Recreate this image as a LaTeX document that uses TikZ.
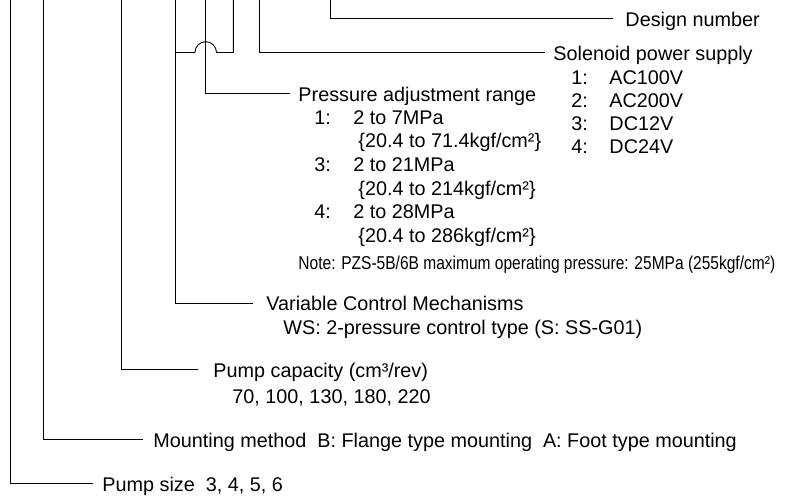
\documentclass[tikz,border=0pt]{standalone}
\usepackage{fontspec}
\setmainfont{Liberation Sans}
\newfontfamily\narrowfont[FakeStretch=0.835]{Liberation Sans}
\begin{document}
\begin{tikzpicture}[x=1bp,y=-1bp,line width=0.9bp,
  head/.style={inner sep=0pt,anchor=west,text height=16bp,text depth=0pt,font=\fontsize{19.8bp}{23bp}\selectfont},
  sub/.style={inner sep=0pt,anchor=base west,font=\fontsize{19.8bp}{23bp}\selectfont},
  notestyle/.style={inner sep=0pt,anchor=base west,font=\narrowfont\fontsize{18.6bp}{22bp}\selectfont}]
\useasboundingbox (0,0) rectangle (785,499);
% free ends at the top
\coordinate (tA) at (10,0);
\coordinate (tB) at (43.3,0);
\coordinate (tC) at (121,0);
\coordinate (tD) at (175.7,0);
\coordinate (tE) at (205.7,0);
\coordinate (tF) at (233.3,0);
\coordinate (tG) at (259.7,0);
\coordinate (tH) at (330,0);
% Design number
\node[head] (dn) at (625,18.3) {Design number};
\draw (tH) |- ([xshift=-12bp]dn.west);
% Solenoid power supply
\node[head] (sol) at (553,52.5) {Solenoid power supply};
\draw (tG) |- ([xshift=-8bp]sol.west);
\node[sub] (s1) at (571,85) {\makebox[38bp][l]{1:}AC100V};
\node[sub] (s2) at (571,108) {\makebox[38bp][l]{2:}AC200V};
\node[sub] (s3) at (571,131) {\makebox[38bp][l]{3:}DC12V};
\node[sub] (s4) at (571,154) {\makebox[38bp][l]{4:}DC24V};
% Pressure adjustment range
\node[head] (par) at (298,93.3) {Pressure adjustment range};
\draw (tE) |- ([xshift=-8bp]par.west);
\node[sub] (p1) at (314,124.5) {\makebox[39bp][l]{1:}2 to 7MPa};
\node[sub] (p1b) at (358,148) {\{20.4 to 71.4kgf/cm²\}};
\node[sub] (p3) at (314,172) {\makebox[39bp][l]{3:}2 to 21MPa};
\node[sub] (p3b) at (358,195.5) {\{20.4 to 214kgf/cm²\}};
\node[sub] (p4) at (314,219) {\makebox[39bp][l]{4:}2 to 28MPa};
\node[sub] (p4b) at (358,243) {\{20.4 to 286kgf/cm²\}};
\node[notestyle] (note) at (298,269.5) {Note: PZS-5B/6B maximum operating pressure: 25MPa (255kgf/cm²)};
% Variable Control Mechanisms (two letters joined, with a hop)
\node[head] (vcm) at (266,303) {Variable Control Mechanisms};
\draw (tD) |- ([xshift=-13bp]vcm.west);
\node[sub] (ws) at (283,334) {WS: 2-pressure control type (S: SS-G01)};
\coordinate (cF) at (233.3,52.5);
\coordinate (hR) at (216.5,52.5);
\coordinate (jD) at (175.7,52.5);
\draw (tF) -- (cF) -- (hR) arc[start angle=0,end angle=180,radius=10.8bp] -- (jD);
% Pump capacity
\node[head] (pc) at (213,369.3) {Pump capacity (cm³/rev)};
\draw (tC) |- ([xshift=-15bp]pc.west);
\node[sub] (pcv) at (232,403) {70, 100, 130, 180, 220};
% Mounting method
\node[head] (mm) at (153,439.3) {Mounting method\ \ B: Flange type mounting\ \ A: Foot type mounting};
\draw (tB) |- ([xshift=-10bp]mm.west);
% Pump size
\node[head] (ps) at (102,483) {Pump size\ \ 3, 4, 5, 6};
\draw (tA) |- ([xshift=-9bp]ps.west);
\end{tikzpicture}
\end{document}
